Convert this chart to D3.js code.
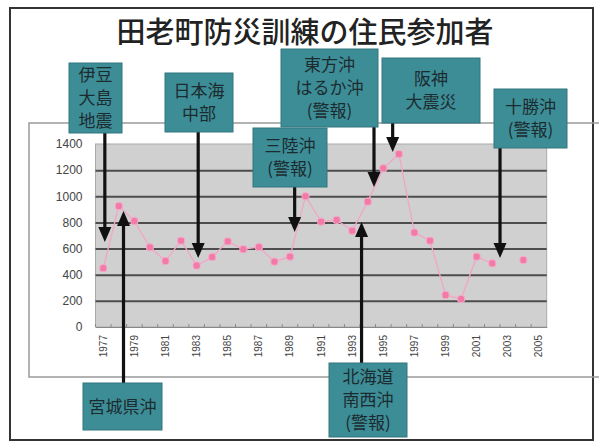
<!DOCTYPE html>
<html><head><meta charset="utf-8">
<script src="https://cdn.jsdelivr.net/npm/d3@7/dist/d3.min.js"></script>
<style>body{margin:0;background:#fff}svg{display:block}</style>
</head><body>
<script>
// ---- data ----
const chartTitle = "田老町防災訓練の住民参加者";
const years = [1977,1978,1979,1980,1981,1982,1983,1984,1985,1986,1987,1988,1989,1990,1991,1992,1993,1994,1995,1996,1997,1998,1999,2000,2001,2002,2003,2004,2005];
const participants = [450,925,810,610,505,660,470,535,655,595,612,500,538,1000,806,819,737,959,1214,1323,722,660,245,214,538,487,null,512,null];
const yTicks = [0,200,400,600,800,1000,1200,1400];
const xTickYears = [1977,1979,1981,1983,1985,1987,1989,1991,1993,1995,1997,1999,2001,2003,2005];

// events: label lines, year position the arrow points to, value at arrow tip
const eventLabels = [["伊豆","大島","地震"],["宮城県沖"],["日本海","中部"],["三陸沖","(警報)"],["北海道","南西沖","(警報)"],["東方沖","はるか沖","(警報)"],["阪神","大震災"],["十勝沖","(警報)"]];
const eventYears = [1977.1,1978.3,1983.1,1989.3,1993.6,1994.4,1995.6,2002.5];
const eventTips = [650,887,528,727,803,1071,1339,528];

// ---- layout (pixels) ----
const W = 599, H = 443;
const plot = {left:95.5, right:546.7, top:144, bottom:327};
// callout boxes: [x, y, w, h, arrowFrom]
const boxLayout = [
  [69,63,53,70,"bottom"],
  [83,383,79,47,"top"],
  [165,73,68,59,"bottom"],
  [253,128,74,59,"bottom"],
  [329,363,78,74,"top"],
  [281,49,97,78,"bottom"],
  [382,58,98,65,"bottom"],
  [494,89,73,59,"bottom"]
];

const svg = d3.select("body").append("svg").attr("width",W).attr("height",H);

// outer frame
svg.append("rect").attr("x",10).attr("y",8).attr("width",583).attr("height",432)
  .attr("fill","#fff").attr("stroke","#333").attr("stroke-width",2);

// chart area box
svg.append("path").attr("d",`M${W},123 H29 V377 H${W}`).attr("fill","none")
  .attr("stroke","#9a9a9a").attr("stroke-width",1.5);

// title
svg.append("text").attr("x",305).attr("y",43).attr("text-anchor","middle")
  .attr("font-family","'Noto Sans CJK JP'").attr("font-size",29).attr("font-weight",500).attr("fill","#222")
  .text(chartTitle);

const x = d3.scaleBand().domain(years).range([plot.left, plot.right]).padding(0);
const y = d3.scaleLinear().domain([0,1400]).range([plot.bottom, plot.top]);
const xYear = d3.scaleLinear().domain([years[0], years[years.length-1]])
  .range([x(years[0]) + x.bandwidth()/2, x(years[years.length-1]) + x.bandwidth()/2]);

// plot area
svg.append("rect").attr("x",plot.left).attr("y",plot.top)
  .attr("width",plot.right-plot.left).attr("height",plot.bottom-plot.top)
  .attr("fill","#d0d0d0").attr("stroke","#aaa").attr("stroke-width",1);

// gridlines
const grid = svg.append("g").attr("transform",`translate(${plot.left},0)`)
  .call(d3.axisLeft(y).tickValues(yTicks.filter(v=>v>0 && v<1400)).tickSize(-(plot.right-plot.left)).tickFormat(""));
grid.select(".domain").remove();
grid.selectAll("line").attr("stroke","#4d4d4d").attr("stroke-width",2);

// y axis labels
const ya = svg.append("g").attr("transform",`translate(${plot.left},0)`)
  .call(d3.axisLeft(y).tickValues(yTicks).tickSize(0).tickPadding(13).tickFormat(d=>String(d)));
ya.select(".domain").remove();
ya.selectAll("text").attr("font-family","'Liberation Sans', Arial").attr("font-size",12)
  .attr("fill","#444");

// x axis
const xa = svg.append("g").attr("transform",`translate(0,${plot.bottom})`)
  .call(d3.axisBottom(x).tickValues(xTickYears).tickSize(0).tickFormat(d=>String(d)));
xa.select(".domain").attr("stroke","#888");
xa.selectAll("text").attr("font-family","'Liberation Sans', Arial").attr("font-size",10)
  .attr("fill","#444").attr("text-anchor","end")
  .attr("transform","rotate(-90)").attr("x",-8).attr("y",0).attr("dy","0.35em");
// small category ticks
svg.append("g").selectAll("line").data(years).join("line")
  .attr("x1",d=>x(d)).attr("x2",d=>x(d)).attr("y1",plot.bottom).attr("y2",plot.bottom-3)
  .attr("stroke","#888");

// data line
const line = d3.line().defined(d=>d.v!=null).x(d=>x(d.yr)+x.bandwidth()/2).y(d=>y(d.v));
const pts = years.map((yr,i)=>({yr, v:participants[i]}));
svg.append("path").datum(pts).attr("d",line).attr("fill","none")
  .attr("stroke","#f3a6c4").attr("stroke-width",1.3);
svg.append("g").selectAll("rect").data(pts.filter(d=>d.v!=null)).join("rect")
  .attr("x",d=>x(d.yr)+x.bandwidth()/2-3.5).attr("y",d=>y(d.v)-3.5)
  .attr("width",7).attr("height",7).attr("rx",2.5)
  .attr("fill","#f27aa8").attr("stroke","#f7a9c8").attr("stroke-width",1);

// callouts
const head = 15, hw = 6.5;
eventLabels.forEach((lines,i)=>{
  const [bx,by,bw,bh,from] = boxLayout[i];
  const ax = xYear(eventYears[i]);
  const ty = y(eventTips[i]);
  const g = svg.append("g");
  let y0, dir;
  if (from==="bottom") { y0 = by+bh; dir = 1; } else { y0 = by; dir = -1; }
  g.append("line").attr("x1",ax).attr("x2",ax).attr("y1",y0).attr("y2",ty-dir*head)
    .attr("stroke","#111").attr("stroke-width",3.2);
  g.append("path").attr("d",`M${ax-hw},${ty-dir*head} L${ax+hw},${ty-dir*head} L${ax},${ty} Z`)
    .attr("fill","#111");
  g.append("rect").attr("x",bx).attr("y",by).attr("width",bw).attr("height",bh)
    .attr("fill","#3d8d96").attr("stroke","#33777f").attr("stroke-width",1);
  const lh = 23;
  const start = by + bh/2 - (lines.length-1)*lh/2;
  const t = g.append("text").attr("text-anchor","middle").attr("font-family","'Noto Sans CJK JP'")
    .attr("font-size",17).attr("fill","#1c2b30");
  lines.forEach((s,j)=>{
    t.append("tspan").attr("x",bx+bw/2).attr("y",start+j*lh).attr("dy","0.36em").text(s);
  });
});
</script>
</body></html>
